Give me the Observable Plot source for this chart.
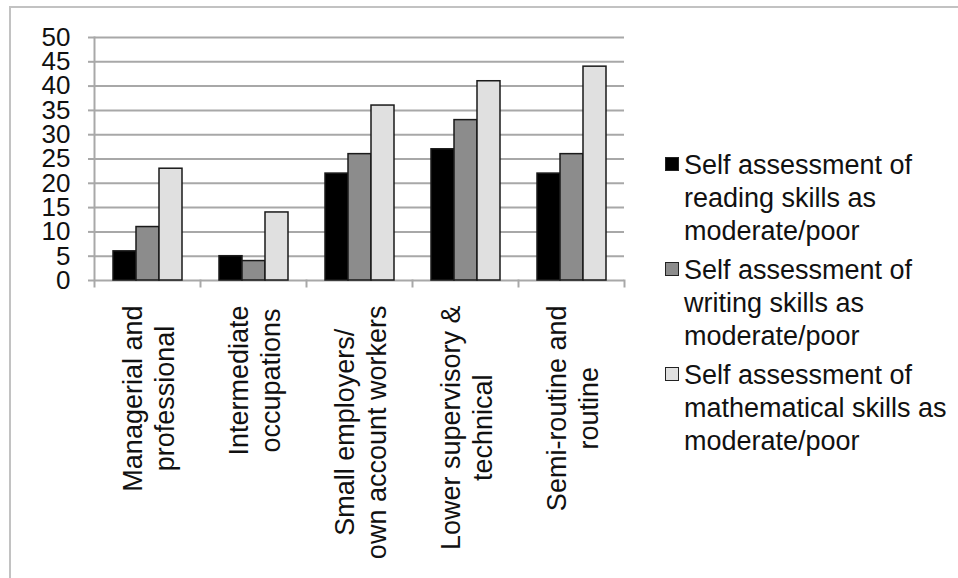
<!DOCTYPE html>
<html>
<head>
<meta charset="utf-8">
<script src="https://cdn.jsdelivr.net/npm/d3@7"></script>
<script src="https://cdn.jsdelivr.net/npm/@observablehq/plot@0.6"></script>
<style>
  html, body { margin: 0; padding: 0; background: #fff; }
  body { font-family: "Liberation Sans", Arial, Helvetica, sans-serif; }
  #wrap { position: relative; width: 958px; height: 578px; overflow: hidden; }
  #frame { position: absolute; left: 9px; top: 6px; right: 0; bottom: 0;
           border-top: 2px solid #c2c2c2; border-left: 2px solid #c2c2c2; }
  #chart { position: absolute; left: 0; top: 0; }
  #legend { position: absolute; left: 665px; top: 149px; color: #111;
            font-size: 27px; line-height: 33px; }
  .entry { display: flex; align-items: flex-start; margin-bottom: 6px; }
  .sw { width: 12px; height: 12px; border: 1.5px solid #222; margin-top: 8px; margin-right: 5px; flex: none; }
  .lab { white-space: pre-line; }
</style>
</head>
<body>
<div id="wrap">
  <div id="frame"></div>
  <div id="chart"></div>
  <div id="legend"></div>
</div>
<script>
// ---- data ----
const categories = [
  "Managerial and professional",
  "Intermediate occupations",
  "Small employers/ own account workers",
  "Lower supervisory & technical",
  "Semi-routine and routine"
];
const categoryLabels = [
  "Managerial and\nprofessional",
  "Intermediate\noccupations",
  "Small employers/\nown account workers",
  "Lower supervisory &\ntechnical",
  "Semi-routine and\nroutine"
];
const series = ["reading", "writing", "mathematical"];
const seriesLabels = [
  "Self assessment of\nreading skills as\nmoderate/poor",
  "Self assessment of\nwriting skills as\nmoderate/poor",
  "Self assessment of\nmathematical skills as\nmoderate/poor"
];
const readingValues = [6, 5, 22, 27, 22];
const writingValues = [11, 4, 26, 33, 26];
const mathValues = [23, 14, 36, 41, 44];
const yTicks = [0, 5, 10, 15, 20, 25, 30, 35, 40, 45, 50];
const colors = ["#000000", "#8c8c8c", "#e0e0e0"];

const valuesBySeries = [readingValues, writingValues, mathValues];
const table = [];
categories.forEach((c, i) => {
  series.forEach((s, j) => table.push({category: c, series: s, value: valuesBySeries[j][i]}));
});

const FONT = "Liberation Sans, Arial, Helvetica, sans-serif";

const chart = Plot.plot({
  width: 958,
  height: 578,
  marginLeft: 93,
  marginRight: 333,
  marginTop: 37,
  marginBottom: 298,
  style: {fontFamily: FONT, background: "transparent", overflow: "visible"},
  fx: {domain: categories, paddingInner: 0, paddingOuter: 0, axis: null},
  x: {domain: series, paddingInner: 0, paddingOuter: 0.745, axis: null},
  y: {domain: [0, 50], axis: null},
  color: {domain: series, range: colors},
  marks: [
    Plot.ruleY(yTicks, {y: d => d, stroke: "#a8a8a8", strokeWidth: 2}),
    Plot.frame({anchor: "left", facetAnchor: "left", stroke: "#a8a8a8", strokeWidth: 2, insetBottom: -6}),
    Plot.frame({anchor: "right", stroke: "#a8a8a8", strokeWidth: 2, insetTop: 243, insetBottom: -6}),
    Plot.axisY({ticks: yTicks, tickSize: 6, tickPadding: 18, fontSize: 26, stroke: "#a8a8a8", strokeWidth: 2, fill: "#111", label: null}),
    Plot.barY(table, {fx: "category", x: "series", y: "value", fill: "series", stroke: "#1a1a1a", strokeWidth: 1.5}),
    Plot.text(categories, {
      fx: d => d,
      text: (d, i) => categoryLabels[i],
      frameAnchor: "bottom",
      rotate: -90,
      textAnchor: "middle",
      lineAnchor: "middle",
      lineHeight: 1.2,
      fontSize: 27,
      fill: "#111",
      ariaLabel: "category-labels"
    })
  ]
});
document.getElementById("chart").appendChild(chart);

// shift each rotated label block down so its top edge sits just below the axis (lines stay centred)
const labelEls = new Set([
  ...chart.querySelectorAll('text[aria-label="category-labels"]'),
  ...chart.querySelectorAll('g[aria-label="category-labels"] text')
]);
if (labelEls.size === 0) {
  chart.querySelectorAll("text").forEach(el => {
    if (el.querySelectorAll("tspan").length === 2) labelEls.add(el);
  });
}
labelEls.forEach(el => {
  const w = el.getBBox().width;
  const t = el.getAttribute("transform") || "";
  el.setAttribute("transform", `translate(0,${25 + w / 2}) ${t}`);
});

// legend
const legend = document.getElementById("legend");
series.forEach((s, i) => {
  const e = document.createElement("div");
  e.className = "entry";
  const sw = document.createElement("div");
  sw.className = "sw";
  sw.style.background = colors[i];
  const lab = document.createElement("div");
  lab.className = "lab";
  lab.textContent = seriesLabels[i];
  e.appendChild(sw); e.appendChild(lab);
  legend.appendChild(e);
});
</script>
</body>
</html>
